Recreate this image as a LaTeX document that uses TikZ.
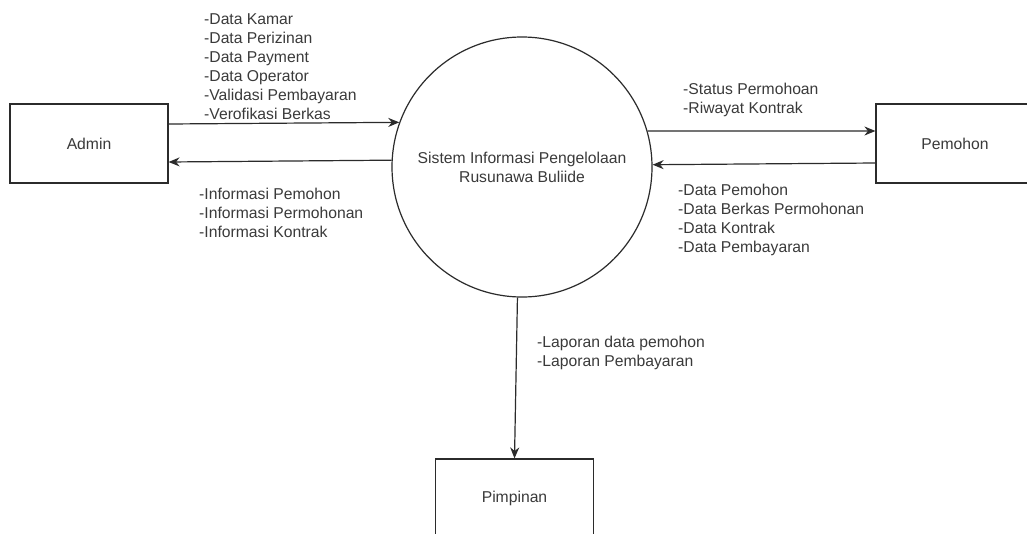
\documentclass[tikz,border=0pt]{standalone}
\usepackage{fontspec}
\setmainfont{Liberation Sans}
\usetikzlibrary{arrows.meta}
\definecolor{ink}{HTML}{2B2B2B}
\definecolor{txt}{HTML}{3A3A3A}
\tikzset{
  entity/.style={draw=ink, line width=1.2pt, minimum width=158pt, minimum height=79pt, inner sep=0pt, text=txt, font=\fontsize{15.7}{19}\selectfont},
  process/.style={draw=ink, line width=1.2pt, circle, minimum size=260pt, inner sep=0pt, align=center, text=txt, font=\fontsize{15.7}{19}\selectfont},
  flow/.style={draw=ink, line width=1.2pt, -{Stealth[length=11pt,width=9pt]}},
  flowlabel/.style={anchor=north west, inner sep=0pt, align=left, text=txt, font=\fontsize{15.7}{19}\selectfont}
}
\begin{document}
\begin{tikzpicture}[x=1pt,y=-1pt]
\useasboundingbox (0,0) rectangle (1027,533);
\clip (0,0) rectangle (1027,533);
\fill[white] (0,0) rectangle (1027,533);

\node[entity] (admin) at (89,143.5) {Admin};
\node[entity] (pemohon) at (955,143.5) {Pemohon};
\node[entity] (pimpinan) at (514.5,498.5) {Pimpinan};
\node[process] (sis) at (522,167) {Sistem Informasi Pengelolaan\\Rusunawa Buliide};

\draw[flow] (admin.east |- 0,124) -- (sis.160.7);
\draw[flow] (sis.177.8) -- (admin.east |- 0,162);
\draw[flow] (sis.16.1) -- (pemohon.west |- 0,131);
\draw[flow] (pemohon.west |- 0,163) -- (sis.1.8);
\draw[flow] (sis.268) -- (pimpinan.north);

\node[flowlabel] (l1) at (204,13.3) {-Data Kamar\\-Data Perizinan\\-Data Payment\\-Data Operator\\-Validasi Pembayaran\\-Verofikasi Berkas};
\node[flowlabel] (l2) at (199,188.3) {-Informasi Pemohon\\-Informasi Permohonan\\-Informasi Kontrak};
\node[flowlabel] (l3) at (683,83.3) {-Status Permohoan\\-Riwayat Kontrak};
\node[flowlabel] (l4) at (678,184.3) {-Data Pemohon\\-Data Berkas Permohonan\\-Data Kontrak\\-Data Pembayaran};
\node[flowlabel] (l5) at (537,336.3) {-Laporan data pemohon\\-Laporan Pembayaran};
\end{tikzpicture}
\end{document}
